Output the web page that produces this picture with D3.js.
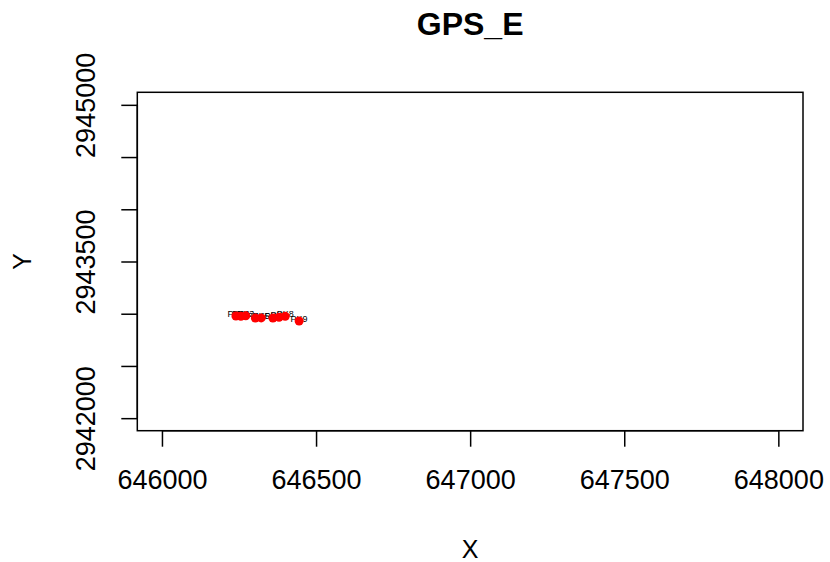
<!DOCTYPE html>
<html>
<head>
<meta charset="utf-8">
<script src="https://cdn.jsdelivr.net/npm/d3@7"></script>
<style>
  html, body { margin: 0; padding: 0; background: #fff; }
  text { font-family: "Liberation Sans", Arial, sans-serif; fill: #000; }
</style>
</head>
<body>
<svg id="chart" width="830" height="562"></svg>
<script>
// ---- data ----
const chartTitle = "GPS_E";
const xTitle = "X";
const yTitle = "Y";
const xDomain = [646000, 648000];
const yDomain = [2942000, 2945000];
const xTicks = [646000, 646500, 647000, 647500, 648000];
const yTicks = [2942000, 2942500, 2943000, 2943500, 2944000, 2944500, 2945000];
const pointX = [646240, 646256, 646272, 646303, 646322, 646360, 646380, 646400, 646445];
const pointY = [2942978, 2942976, 2942980, 2942958, 2942960, 2942958, 2942966, 2942975, 2942930];
const pointLabels = ["PK1", "PK2", "PK3", "PK4", "PK5", "PK6", "PK7", "PK8", "PK9"];

// ---- layout ----
const svg = d3.select("#chart");
const box = { left: 137.3, right: 803, top: 92.3, bottom: 430.7 };
const ext = (d) => { const r = d[1] - d[0]; return [d[0] - 0.04 * r, d[1] + 0.04 * r]; };
const x = d3.scaleLinear().domain(ext(xDomain)).range([box.left, box.right]);
const y = d3.scaleLinear().domain(ext(yDomain)).range([box.bottom, box.top]);

// point labels (behind points)
svg.append("g").selectAll("text").data(pointX).join("text")
  .attr("x", (d, i) => x(d))
  .attr("y", (d, i) => y(pointY[i]))
  .attr("dy", "0.1em")
  .attr("text-anchor", "middle")
  .style("font-size", "9px")
  .text((d, i) => pointLabels[i]);

// points
svg.append("g").selectAll("circle").data(pointX).join("circle")
  .attr("cx", d => x(d))
  .attr("cy", (d, i) => y(pointY[i]))
  .attr("r", 4.5)
  .attr("fill", "#ff0000");

// box
svg.append("rect")
  .attr("x", box.left).attr("y", box.top)
  .attr("width", box.right - box.left).attr("height", box.bottom - box.top)
  .attr("fill", "none").attr("stroke", "#000").attr("stroke-width", 1.5);

// x axis
const xAxis = d3.axisBottom(x).tickValues(xTicks).tickSize(16).tickSizeOuter(0)
  .tickFormat(d3.format("d")).tickPadding(0);
const gx = svg.append("g").attr("transform", `translate(0,${box.bottom})`).call(xAxis);
gx.select(".domain").attr("d", `M${x(xTicks[0])},0H${x(xTicks[xTicks.length - 1])}`)
  .attr("stroke", "#000").attr("stroke-width", 1.5);
gx.selectAll(".tick line").attr("stroke", "#000").attr("stroke-width", 1.5);
gx.selectAll(".tick text").attr("y", 58).attr("dy", 0)
  .style("font-size", "27px").attr("fill", "#000");

// y axis
const yAxis = d3.axisLeft(y).tickValues(yTicks).tickSize(16).tickSizeOuter(0)
  .tickFormat(d3.format("d")).tickPadding(0);
const gy = svg.append("g").attr("transform", `translate(${box.left},0)`).call(yAxis);
gy.select(".domain").attr("d", `M0,${y(yTicks[0])}V${y(yTicks[yTicks.length - 1])}`)
  .attr("stroke", "#000").attr("stroke-width", 1.5);
gy.selectAll(".tick line").attr("stroke", "#000").attr("stroke-width", 1.5);
gy.selectAll(".tick text")
  .attr("x", 0).attr("y", 0).attr("dy", 0)
  .attr("text-anchor", "middle")
  .attr("transform", "translate(-42,0) rotate(-90)")
  .style("font-size", "27px").attr("fill", "#000");
// R-style overlap removal for y labels (from bottom upward)
let lastTop = Infinity;
gy.selectAll(".tick").each(function (d) {
  const t = d3.select(this).select("text");
  const len = t.node().getComputedTextLength();
  const cy = y(d);
  const lo = cy + len / 2, hi = cy - len / 2;
  if (lo > lastTop - 20) { t.remove(); } else { lastTop = hi; }
});

// titles
svg.append("text").attr("x", (box.left + box.right) / 2).attr("y", 35)
  .attr("text-anchor", "middle").style("font-size", "32px").style("font-weight", "bold")
  .text(chartTitle);
svg.append("text").attr("x", (box.left + box.right) / 2).attr("y", 557.5)
  .attr("text-anchor", "middle").style("font-size", "25px")
  .text(xTitle);
svg.append("text").attr("transform", `translate(31,${(box.top + box.bottom) / 2}) rotate(-90)`)
  .attr("text-anchor", "middle").style("font-size", "25px")
  .text(yTitle);
</script>
</body>
</html>
